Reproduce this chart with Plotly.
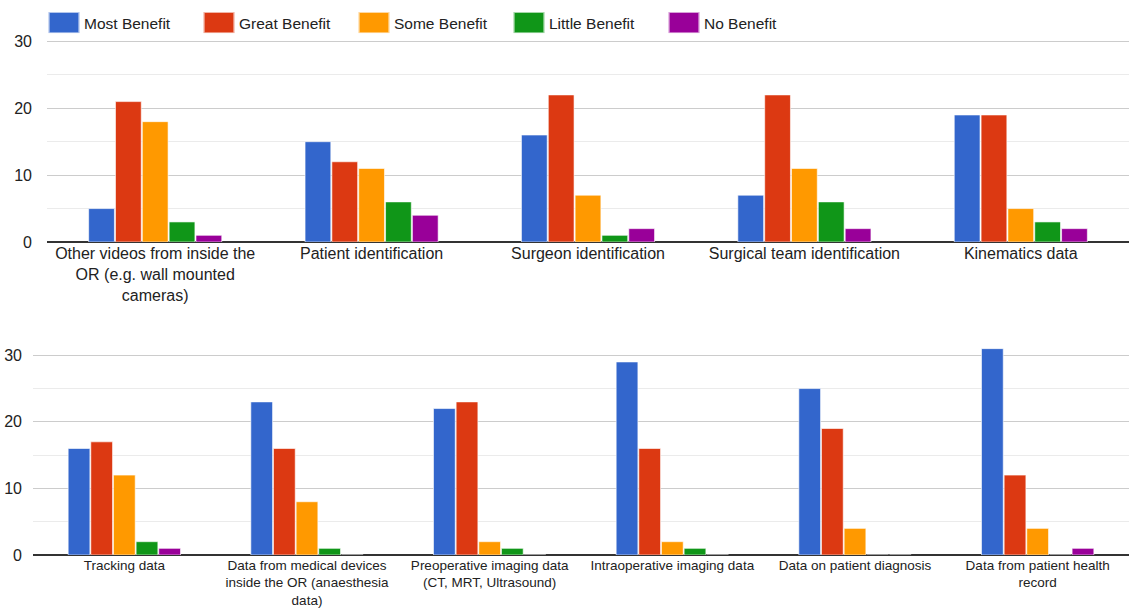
import plotly.graph_objects as go

series = ["Most Benefit", "Great Benefit", "Some Benefit", "Little Benefit", "No Benefit"]
colors = ["#3366cc", "#dc3912", "#ff9900", "#109618", "#990099"]

top_categories = [
    "Other videos from inside the<br>OR (e.g. wall mounted<br>cameras)",
    "Patient identification",
    "Surgeon identification",
    "Surgical team identification",
    "Kinematics data",
]
top_most = [5, 15, 16, 7, 19]
top_great = [21, 12, 22, 22, 19]
top_some = [18, 11, 7, 11, 5]
top_little = [3, 6, 1, 6, 3]
top_none = [1, 4, 2, 2, 2]

bottom_categories = [
    "Tracking data",
    "Data from medical devices<br>inside the OR (anaesthesia<br>data)",
    "Preoperative imaging data<br>(CT, MRT, Ultrasound)",
    "Intraoperative imaging data",
    "Data on patient diagnosis",
    "Data from patient health<br>record",
]
bottom_most = [16, 23, 22, 29, 25, 31]
bottom_great = [17, 16, 23, 16, 19, 12]
bottom_some = [12, 8, 2, 2, 4, 4]
bottom_little = [2, 1, 1, 1, 0, 0]
bottom_none = [1, 0, 0, 0, 0, 1]

top_values = [top_most, top_great, top_some, top_little, top_none]
bottom_values = [bottom_most, bottom_great, bottom_some, bottom_little, bottom_none]

W, H = 1129, 615
fig = go.Figure()

for i, name in enumerate(series):
    fig.add_trace(go.Bar(
        x=top_categories, y=top_values[i], name=name,
        marker=dict(color=colors[i], line=dict(color="rgba(255,255,255,0.6)", width=1)),
        xaxis="x", yaxis="y", legendgroup=name, showlegend=True,
    ))
for i, name in enumerate(series):
    fig.add_trace(go.Bar(
        x=bottom_categories, y=bottom_values[i], name=name,
        marker=dict(color=colors[i], line=dict(color="rgba(255,255,255,0.6)", width=1)),
        xaxis="x2", yaxis="y2", legendgroup=name, showlegend=False,
    ))

yax_common = dict(
    range=[0, 35], dtick=10, tick0=0, showgrid=True, gridcolor="#cccccc", gridwidth=1,
    minor=dict(dtick=5, showgrid=True, gridcolor="#ebebeb", gridwidth=1),
    zeroline=True, zerolinecolor="#333333", zerolinewidth=1.5,
    tickfont=dict(family="Liberation Sans, Arial", size=16, color="#222222"),
    ticks="", fixedrange=True,
)

fig.update_layout(
    width=W, height=H,
    margin=dict(l=0, r=0, t=0, b=0, autoexpand=False),
    paper_bgcolor="white", plot_bgcolor="white",
    barmode="group", bargap=0.38, bargroupgap=0.04,
    font=dict(family="Liberation Sans, Arial", color="#222222"),
    xaxis=dict(domain=[47 / W, 1], anchor="y", showgrid=False, ticks="",
               tickfont=dict(size=16, color="#222222"), showline=False, fixedrange=True),
    yaxis=dict(domain=[1 - 242 / H, 1 - 8 / H], anchor="x", ticklabelstandoff=14, **yax_common),
    xaxis2=dict(domain=[33 / W, 1], anchor="y2", showgrid=False, ticks="",
                tickfont=dict(size=13.5, color="#222222"), showline=False, fixedrange=True),
    yaxis2=dict(domain=[1 - 555 / H, 1 - 322 / H], anchor="x2", ticklabelstandoff=10, **yax_common),
    legend=dict(orientation="h", x=44 / W, xanchor="left", y=1 - 23 / H, yanchor="middle",
                font=dict(size=15.5, color="#222222"), bgcolor="rgba(0,0,0,0)",
                itemwidth=30, entrywidth=110, traceorder="normal"),
)

post = """
document.body.style.margin='0';
var gd = document.getElementById('{plot_id}');
function enlargeLegendSymbols(){
  gd.querySelectorAll('.legendpoints path').forEach(function(p){
    if (p.dataset.orig === undefined) { p.dataset.orig = p.getAttribute('transform') || ''; }
    p.setAttribute('transform', p.dataset.orig + ' scale(2.6,1.75)');
  });
}
enlargeLegendSymbols();
if (gd.on) { gd.on('plotly_afterplot', enlargeLegendSymbols); }
setTimeout(enlargeLegendSymbols, 200);
setTimeout(enlargeLegendSymbols, 1000);
"""
fig.write_html("out.html", post_script=post, config={"displayModeBar": False})
